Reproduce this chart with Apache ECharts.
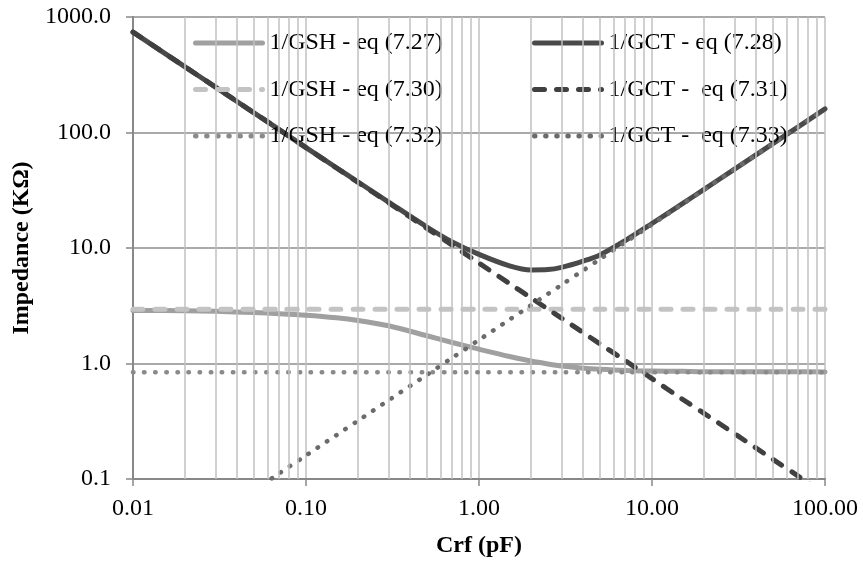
<!DOCTYPE html>
<html>
<head>
<meta charset="utf-8">
<script src="https://cdn.jsdelivr.net/npm/echarts@6/dist/echarts.min.js"></script>
<style>
html,body{margin:0;padding:0;background:#fff;}
#chart{width:863px;height:563px;}
</style>
</head>
<body>
<div id="chart"></div>
<script>
// Crf (pF) sample points
const crf = [0.01, 0.02, 0.03, 0.05, 0.07, 0.1, 0.15, 0.2, 0.3, 0.5, 0.7, 1, 1.5, 2, 2.5, 3, 4, 5, 7, 10, 15, 20, 30, 50, 70, 100];
// Impedance (KΩ) values
const gsh727 = [2.88, 2.86, 2.83, 2.76, 2.70, 2.62, 2.49, 2.36, 2.12, 1.74, 1.52, 1.33, 1.15, 1.05, 0.99, 0.95, 0.91, 0.89, 0.87, 0.86, 0.855, 0.85, 0.85, 0.848, 0.847, 0.846];
const gsh730 = [2.95, 2.95, 2.95, 2.95, 2.95, 2.95, 2.95, 2.95, 2.95, 2.95, 2.95, 2.95, 2.95, 2.95, 2.95, 2.95, 2.95, 2.95, 2.95, 2.95, 2.95, 2.95, 2.95, 2.95, 2.95, 2.95];
const gsh732 = [0.84, 0.84, 0.84, 0.84, 0.84, 0.84, 0.84, 0.84, 0.84, 0.84, 0.84, 0.84, 0.84, 0.84, 0.84, 0.84, 0.84, 0.84, 0.84, 0.84, 0.84, 0.84, 0.84, 0.84, 0.84, 0.84];
const gct728 = [740, 370, 247, 148, 106, 74, 49.5, 37.3, 25, 15.2, 11.3, 8.8, 7.0, 6.45, 6.5, 6.8, 7.7, 8.7, 11.6, 16.3, 24.2, 32.2, 48.2, 80.2, 112, 160];
const gct731 = [740, 370, 247, 148, 106, 74, 49.3, 37, 24.7, 14.8, 10.6, 7.4, 4.93, 3.7, 2.96, 2.47, 1.85, 1.48, 1.06, 0.74, 0.49, 0.37, 0.247, 0.148, 0.106, 0.074];
const gct733 = [0.016, 0.032, 0.048, 0.08, 0.112, 0.16, 0.24, 0.32, 0.48, 0.8, 1.12, 1.6, 2.4, 3.2, 4.0, 4.8, 6.4, 8.0, 11.2, 16, 24, 32, 48, 80, 112, 160];
// minor vertical grid positions
const minorX = [0.02,0.03,0.04,0.05,0.06,0.07,0.08,0.09,0.2,0.3,0.4,0.5,0.6,0.7,0.8,0.9,2,3,4,5,6,7,8,9,20,30,40,50,60,70,80,90];
const names = ['1/GSH - eq (7.27)', '1/GCT - eq (7.28)', '1/GSH - eq (7.30)', '1/GCT -  eq (7.31)', '1/GSH - eq (7.32)', '1/GCT -  eq (7.33)'];

const pairs = arr => crf.map((c, i) => [c, arr[i]]);
const FONT = "'Liberation Serif', 'Times New Roman', serif";

function lineSeries(name, arr, color, type, width) {
  return {
    name: name, type: 'line', data: pairs(arr), symbol: 'none', showSymbol: false,
    smooth: 0.3, z: 3, clip: true,
    lineStyle: { color: color, width: width, type: type, cap: 'round', join: 'round' },
    itemStyle: { color: color }
  };
}

const legendCommon = {
  orient: 'vertical', top: 31, padding: 0, itemWidth: 67, itemHeight: 14, itemGap: 22.5,
  textStyle: { fontFamily: FONT, fontSize: 24, color: '#000', lineHeight: 24, padding: [0, 0, 0, 2] }, selectedMode: false,
  itemStyle: { opacity: 0, borderWidth: 0 },
  lineStyle: { width: 5 }
};

const chart = echarts.init(document.getElementById('chart'), null, { renderer: 'canvas' });
chart.setOption({
  animation: false,
  backgroundColor: '#fff',
  textStyle: { fontFamily: FONT, color: '#000' },
  grid: { left: 133, top: 17, width: 692, height: 463, containLabel: false },
  legend: [
    Object.assign({ data: [names[0], names[2], names[4]], left: 193 }, legendCommon),
    Object.assign({ data: [names[1], names[3], names[5]], left: 532 }, legendCommon)
  ],
  xAxis: {
    type: 'log', logBase: 10, min: 0.01, max: 100,
    name: 'Crf (pF)', nameLocation: 'middle', nameGap: 55,
    nameTextStyle: { fontFamily: FONT, fontSize: 24, fontWeight: 'bold', color: '#000' },
    axisLine: { lineStyle: { color: '#888', width: 2 } },
    axisTick: { show: true, length: 7, inside: false, lineStyle: { color: '#888', width: 1.5 } },
    axisLabel: { fontFamily: FONT, fontSize: 24, color: '#000', margin: 18, formatter: v => Number(v).toFixed(2) },
    splitLine: { show: true, lineStyle: { color: '#c0c0c0', width: 1.5 } }
  },
  yAxis: {
    type: 'log', logBase: 10, min: 0.1, max: 1000,
    name: 'Impedance (KΩ)', nameLocation: 'middle', nameGap: 89,
    nameTextStyle: { fontFamily: FONT, fontSize: 24, fontWeight: 'bold', color: '#000' },
    axisLine: { show: true, lineStyle: { color: '#888', width: 2 } },
    axisTick: { show: true, length: 7, inside: false, lineStyle: { color: '#888', width: 1.5 } },
    axisLabel: { fontFamily: FONT, fontSize: 24, color: '#000', margin: 22, formatter: v => Number(v).toFixed(1) },
    splitLine: { show: true, lineStyle: { color: '#8c8c8c', width: 1.5 } }
  },
  series: [
    { name: 'minor', type: 'line', data: [], z: 0, silent: true,
      markLine: { silent: true, symbol: 'none', animation: false, label: { show: false },
        lineStyle: { color: '#c0c0c0', width: 1.5, type: 'solid' },
        data: minorX.map(v => ({ xAxis: v })) } },
    lineSeries(names[0], gsh727, '#a0a0a0', 'solid', 5),
    lineSeries(names[1], gct728, '#4a4a4a', 'solid', 5),
    lineSeries(names[2], gsh730, '#c3c3c3', [10, 12], 5),
    lineSeries(names[3], gct731, '#404040', [10, 12], 5),
    lineSeries(names[4], gsh732, '#8a8a8a', [0.5, 10.6], 4.5),
    lineSeries(names[5], gct733, '#6b6b6b', [0.5, 10.6], 4.5)
  ]
});
</script>
</body>
</html>
